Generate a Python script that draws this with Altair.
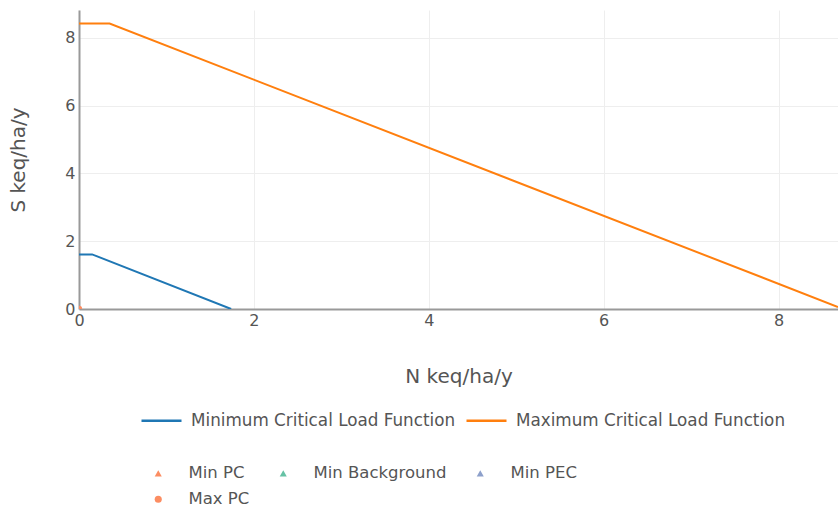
import altair as alt
import pandas as pd

# Critical load function lines
min_x = [0.0, 0.15, 1.74]
min_y = [1.61, 1.61, 0.0]
max_x = [0.0, 0.35, 8.68]
max_y = [8.42, 8.42, 0.06]
series_names = ["Minimum Critical Load Function", "Maximum Critical Load Function"]
line_colors = ["#1f77b4", "#ff7f0e"]

# Points
point_names = ["Min PC", "Min Background", "Min PEC", "Max PC"]
point_colors = ["#fc8d62", "#66c2a5", "#8da0cb", "#fc8d62"]
point_shapes = ["triangle-up", "triangle-up", "triangle-up", "circle"]
pt_name = ["Max PC"]
pt_x = [0.0]
pt_y = [0.0]

x_ticks = [0, 2, 4, 6, 8]
y_ticks = [0, 2, 4, 6, 8]
x_domain = [0, 8.68]
y_domain = [0, 8.82]

lines_df = pd.DataFrame({
    "N": min_x + max_x,
    "S": min_y + max_y,
    "series": [series_names[0]] * len(min_x) + [series_names[1]] * len(max_x),
    "order": list(range(len(min_x))) + list(range(len(max_x))),
})
pts_df = pd.DataFrame({"N": pt_x, "S": pt_y, "type": pt_name})

FONT = "DejaVu Sans"
TXT = "#555555"

x_enc = alt.X("N:Q", scale=alt.Scale(domain=x_domain, nice=False, zero=False),
              axis=alt.Axis(values=x_ticks, title="N keq/ha/y", format="d"))
y_enc = alt.Y("S:Q", scale=alt.Scale(domain=y_domain, nice=False, zero=False),
              axis=alt.Axis(values=y_ticks, title="S keq/ha/y", format="d"))

lines = alt.Chart(lines_df).mark_line(strokeWidth=2, clip=True).encode(
    x=x_enc,
    y=y_enc,
    order="order:Q",
    color=alt.Color("series:N",
                    scale=alt.Scale(domain=series_names, range=line_colors),
                    legend=alt.Legend(orient="none", legendX=61, legendY=389,
                                      direction="horizontal", columns=2,
                                      symbolType="stroke", symbolSize=1600,
                                      symbolStrokeWidth=2.5, columnPadding=5,
                                      labelFontSize=16.8, labelOffset=8, title=None,
                                      labelLimit=400)),
)

pt_legend = alt.Legend(orient="none", legendX=71, legendY=455,
                       direction="horizontal", columns=3,
                       symbolSize=50, columnPadding=25, rowPadding=9,
                       labelFontSize=16.5, labelOffset=22, title=None,
                       symbolStrokeWidth=0, labelLimit=400)

points = alt.Chart(pts_df).mark_point(filled=True, size=40, opacity=1, clip=True).encode(
    x="N:Q",
    y="S:Q",
    fill=alt.Fill("type:N",
                  scale=alt.Scale(domain=point_names, range=point_colors),
                  legend=pt_legend),
    shape=alt.Shape("type:N",
                    scale=alt.Scale(domain=point_names, range=point_shapes),
                    legend=pt_legend),
)

chart = alt.layer(lines, points).resolve_scale(color="independent").properties(
    width=759, height=299,
    padding={"left": 79, "top": 10, "right": 0, "bottom": 204},
    autosize=alt.AutoSizeParams(type="none"),
).configure(font=FONT).configure_view(stroke=None).configure_axis(
    grid=True, gridColor="#eeeeee", gridWidth=1,
    domainColor="#999999", domainWidth=2,
    ticks=False, labelFontSize=16, labelColor=TXT, labelFont=FONT,
    labelFlush=False,
    titleFontSize=20, titleColor=TXT, titleFont=FONT, titleFontWeight="normal",
).configure_axisX(labelPadding=3, titlePadding=38).configure_axisY(
    labelPadding=4, titlePadding=36
).configure_legend(labelColor=TXT, labelFont=FONT)

chart.save("out.html", embed_options={"renderer": "svg", "actions": False})
